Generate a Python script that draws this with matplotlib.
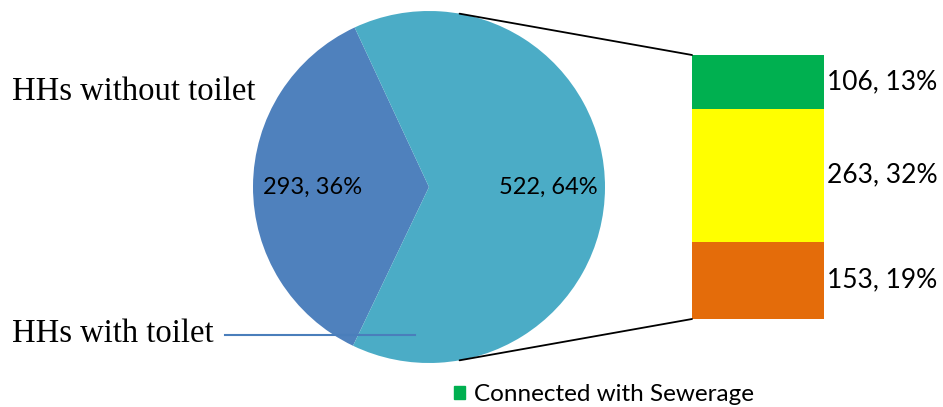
import matplotlib
matplotlib.use("Agg")
import matplotlib.pyplot as plt
import numpy as np
from matplotlib.patches import ConnectionPatch, Patch

# pie data
pie_labels = ["HHs without toilet", "HHs with toilet"]
pie_values = [293, 522]
pie_colors = ["#4F81BD", "#4BACC6"]

# breakdown of HHs with toilet (bottom to top)
bar_labels = ["Other", "Septic tank", "Connected with Sewerage"]
bar_values = [153, 263, 106]
bar_colors = ["#E46C0A", "#FFFF00", "#00B050"]

total = sum(pie_values)
W, H = 943, 407

fig = plt.figure(figsize=(W / 100, H / 100), dpi=100)

# pie axes: circle spans x 253..605, y 11..363 (pixels from top)
ax1 = fig.add_axes([253 / W, (H - 363) / H, 352 / W, 352 / H])
ax1.pie(pie_values, colors=pie_colors, startangle=115, radius=1,
        wedgeprops=dict(linewidth=0))
ax1.set_xlim(-1, 1)
ax1.set_ylim(-1, 1)
ax1.set_aspect("equal")
ax1.axis("off")

label_x = [-0.66, 0.676]
for v, x in zip(pie_values, label_x):
    ax1.text(x, 0, f"{v}, {v / total:.0%}", ha="center", va="center",
             fontsize=17, family="Lato", color="black")

# bar axes: x 692..824, y 55..319
ax2 = fig.add_axes([692 / W, (H - 319) / H, 132 / W, 264 / H])
bottom = 0
for v, c in zip(bar_values, bar_colors):
    ax2.bar(0, v, width=1, bottom=bottom, color=c, linewidth=0)
    ax2.text(0.525, bottom + v / 2, f"{v}, {v / total:.0%}", ha="left",
             va="center", fontsize=19, family="Lato", color="black")
    bottom += v
ax2.set_xlim(-0.5, 0.5)
ax2.set_ylim(0, sum(bar_values))
ax2.axis("off")

# connector lines from pie edge to bar
theta = np.deg2rad(80)
for sign, yb in [(1, sum(bar_values)), (-1, 0)]:
    con = ConnectionPatch(xyA=(np.cos(theta), sign * np.sin(theta)), coordsA=ax1.transData,
                          xyB=(-0.5, yb), coordsB=ax2.transData,
                          color="black", linewidth=1.3)
    fig.add_artist(con)

# category labels on the left
fig.text(12 / W, 1 - 92 / H, pie_labels[0], ha="left", va="center",
         fontsize=23.5, family="Liberation Serif")
fig.text(12 / W, 1 - 334 / H, pie_labels[1], ha="left", va="center",
         fontsize=23.5, family="Liberation Serif")
ax1.plot([(225 - 429) / 176, (415 - 429) / 176], [(187 - 335) / 176] * 2,
         color="#4A7EBB", linewidth=1.5, clip_on=False)

# legend (partially cut off at the bottom)
fig.legend(handles=[Patch(color=bar_colors[2])], labels=[bar_labels[2]],
           loc="upper left", bbox_to_anchor=(432 / W, 1 - 362 / H),
           frameon=False, handlelength=0.45, handleheight=0.45, handletextpad=0.38,
           prop=dict(family="Lato", size=17.5))

fig.savefig("out.png", dpi=100)
